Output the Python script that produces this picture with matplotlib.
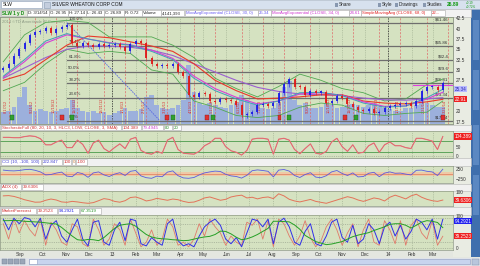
import matplotlib
matplotlib.use('Agg')
import matplotlib.pyplot as plt
import matplotlib.dates as mdates
from matplotlib.patches import Rectangle
from matplotlib.transforms import blended_transform_factory
import pandas as pd

plt.rcParams['font.family'] = ['Liberation Sans', 'DejaVu Sans']

W, H = 480, 266

# ---------------- data (weekly) ----------------
weeks = pd.date_range('2012-08-10', periods=84, freq='7D')
first_open = 30.0
close = [30.5, 31.5, 33.5, 35.0, 36.5, 38.5, 39.2, 39.5, 40.2, 39.0,
         39.8, 40.3, 40.8, 36.5, 35.8, 36.5, 36.0, 35.5, 36.2, 35.8,
         36.0, 36.3, 35.5, 34.5, 36.2, 37.0, 36.5, 33.0, 31.5, 31.0,
         31.3, 31.0, 31.5, 29.5, 28.5, 24.0, 23.5, 24.5, 24.2, 22.5,
         22.3, 23.0, 22.8, 22.5, 21.5, 19.0, 19.3, 19.8, 21.5, 21.8,
         21.3, 22.0, 24.5, 26.5, 27.8, 26.0, 25.8, 24.0, 24.8, 24.5,
         24.6, 22.0, 22.4, 23.8, 23.2, 21.8, 21.0, 20.3, 20.0, 20.5,
         19.6, 19.8, 20.8, 21.3, 21.5, 21.8, 22.0, 21.2, 22.6, 24.8,
         25.8, 25.9, 25.2, 26.89]
volume = [4.5, 5.0, 6.5, 10.0, 14.0, 7.0, 5.0, 5.5, 5.0, 4.5,
          5.0, 5.5, 6.0, 9.0, 6.0, 5.0, 4.5, 5.0, 4.0, 4.5,
          3.5, 4.0, 5.0, 6.0, 5.0, 5.0, 5.5, 10.0, 11.0, 7.0,
          6.0, 5.5, 6.0, 7.0, 9.0, 22.0, 12.0, 8.0, 7.0, 8.0,
          7.0, 6.5, 6.0, 7.0, 8.0, 11.0, 9.0, 8.0, 7.0, 6.0,
          5.5, 6.0, 8.0, 14.0, 16.0, 9.0, 7.0, 8.0, 6.0, 6.0,
          6.5, 8.0, 7.0, 6.0, 6.5, 7.0, 7.5, 7.0, 6.5, 7.0,
          8.0, 6.5, 6.0, 5.5, 5.0, 5.0, 6.0, 6.0, 7.0, 9.0,
          8.0, 7.0, 6.5, 6.5]

# moving averages / bands, every 4th week + last
ma_dates = weeks[::4].append(weeks[-1:])
ema30 = [28.5, 32.5, 37.0, 38.8, 37.5, 36.5, 36.0, 34.5, 32.5, 28.0, 25.0,
         23.0, 21.5, 22.5, 24.5, 24.6, 23.8, 22.0, 21.0, 21.3, 23.3, 25.34]
ema34 = [28.2, 32.0, 36.5, 38.5, 37.5, 36.6, 36.1, 34.8, 32.8, 28.5, 25.5,
         23.4, 21.8, 22.5, 24.2, 24.5, 23.9, 22.3, 21.2, 21.3, 23.0, 24.61]
sma68 = [27.5, 29.0, 32.5, 36.0, 38.2, 37.8, 36.8, 35.8, 34.5, 31.5, 27.5,
         25.0, 23.0, 23.2, 23.5, 24.0, 24.0, 22.5, 22.0, 21.8, 22.3, 22.91]
long_avg = [28.0, 30.5, 33.0, 35.0, 35.8, 35.8, 35.5, 34.8, 33.5, 31.5, 29.5,
            27.5, 25.8, 24.8, 24.2, 24.0, 23.8, 23.2, 22.8, 22.7, 23.0, 23.3]
bb_upper = [32.0, 38.5, 41.5, 42.0, 41.5, 38.0, 38.0, 38.0, 36.0, 33.0, 28.0,
            25.5, 23.5, 26.0, 29.0, 27.5, 25.5, 24.5, 22.5, 23.0, 26.5, 27.8]
bb_lower = [25.0, 27.0, 31.5, 35.0, 34.0, 34.5, 34.0, 30.0, 29.0, 22.5, 21.0,
            19.0, 18.5, 19.0, 21.0, 22.0, 21.5, 19.5, 19.0, 19.5, 19.8, 22.5]

# fibonacci retracement
fib_start = '2012-11-02'
fib_pct = ['100.0%', '76.4%', '61.8%', '50.0%', '38.2%', '23.6%', '0.0%']
fib_price = [41.46, 35.86, 32.40, 29.60, 26.81, 23.34, 17.74]
fib_trend = (['2012-11-02', '2013-03-05'], [41.46, 17.74])

expiry = ['2012-08-17', '2012-09-21', '2012-10-19', '2012-11-16', '2012-12-21',
          '2013-01-18', '2013-02-15', '2013-03-15', '2013-04-19', '2013-05-17',
          '2013-06-21', '2013-07-19', '2013-08-16', '2013-09-20', '2013-10-18',
          '2013-11-15', '2013-12-20', '2014-01-17', '2014-02-21', '2014-03-21']
earnings = ['2012-10-27', '2013-03-14', '2013-05-06', '2013-08-10', '2013-11-05', '2014-03-14']
dividends = ['2012-08-21', '2012-11-09', '2013-03-22', '2013-05-14', '2013-08-23', '2013-11-19']

stoch = [100, 100, 98, 98, 104, 108, 105, 93, 60, 60,
         75, 85, 45, 45, 85, 62, 15, 70, 85, 40,
         22, 45, 65, 40, 90, 100, 30, 15, 10, 25,
         15, 85, 100, 35, 15, 12, 10, 25, 55, 70,
         95, 95, 50, 28, 20, 5, 30, 90, 95, 95,
         90, 10, 90, 95, 85, 35, 12, 40, 65, 15,
         10, 25, 75, 95, 50, 25, 60, 15, 20, 55,
         70, 20, 60, 75, 55, 55, 45, 40, 95, 95,
         88, 80, 35, 104.4]
cci = [180, 150, 140, 160, 200, 220, 170, 90, -60, -40,
       30, 80, -120, -150, 60, 0, -180, 40, 90, -60,
       -140, -20, 50, -90, 120, 160, -110, -200, -230, -120,
       -150, 80, 140, -100, -210, -230, -190, -60, 40, 90,
       130, 110, -30, -110, -140, -220, -80, 150, 190, 160,
       120, -160, 180, 210, 130, -90, -190, -40, 50, -170,
       -200, -100, 90, 160, 10, -90, 40, -160, -140, 20,
       70, -150, 30, 90, 20, 30, -20, -60, 170, 180,
       120, 90, -90, 222.8]
adx = [70, 72, 66, 55, 42, 33, 24, 25, 38, 47, 40, 26, 23, 30, 26,
       20, 16, 21, 35, 50, 44, 30, 24, 35, 58, 62, 50, 33, 40, 52, 45,
       38, 47, 42, 30, 22, 25, 38, 55, 62, 50, 38, 45, 62, 70,
       75, 55, 60, 48, 58, 62, 50, 85, 70, 45, 33, 26, 35, 44, 30,
       23, 16, 28, 40, 52, 64, 55, 40, 30, 42, 55, 48, 33, 60, 75,
       62, 48, 70, 82, 60, 45, 35, 30, 39.6]
mf_inter = [90, 90, 91, 90, 88, 87, 86, 85, 83, 81,
            79, 68, 54, 40, 28, 26, 29, 28, 25, 35,
            50, 65, 75, 78, 80, 72, 58, 45, 37, 33,
            31, 30, 28, 27, 25, 26, 30, 34, 37, 39,
            45, 56, 55, 47, 36, 28, 31, 37, 45, 55,
            65, 88, 88, 87, 86, 76, 62, 42, 32, 22,
            17, 12, 14, 18, 22, 30, 38, 43, 47, 51,
            58, 64, 70, 78, 80, 80, 75, 66, 75, 85,
            90, 88, 84, 67.35]
mf_near = [95, 60, 98, 80, 100, 95, 70, 98, 30, 75,
           90, 40, 20, 60, 95, 30, 8, 85, 90, 20,
           10, 60, 85, 25, 95, 90, 15, 8, 35, 20,
           10, 80, 95, 25, 8, 15, 5, 40, 70, 85,
           95, 75, 30, 15, 35, 5, 50, 95, 90, 70,
           95, 15, 85, 98, 70, 20, 10, 55, 80, 15,
           8, 40, 85, 95, 35, 20, 75, 15, 30, 80,
           60, 15, 70, 85, 40, 75, 30, 55, 95, 85,
           60, 95, 30, 94.29]
mf_mom = [80, 30, 95, 50, 90, 60, 40, 95, 10, 85,
          60, 20, 10, 80, 70, 15, 5, 95, 60, 10,
          30, 80, 60, 10, 95, 50, 5, 20, 60, 10,
          30, 95, 70, 10, 20, 5, 30, 80, 40, 95,
          70, 50, 10, 40, 20, 10, 85, 75, 95, 30,
          90, 5, 95, 80, 40, 10, 40, 90, 35, 5,
          25, 70, 95, 60, 10, 50, 80, 5, 60, 95,
          20, 10, 90, 60, 15, 90, 10, 75, 95, 50,
          30, 90, 10, 39.25]

months = pd.date_range('2012-09-01', '2014-03-01', freq='MS')
month_labels = ['Sep', 'Oct', 'Nov', 'Dec', '13', 'Feb', 'Mar', 'Apr', 'May', 'Jun',
                'Jul', 'Aug', 'Sep', 'Oct', 'Nov', 'Dec', '14', 'Feb', 'Mar']

# ---------------- figure ----------------
PANEL = '#d5e2c1'
RIGHT = 453
xlo = mdates.date2num(pd.Timestamp('2012-09-01')) - 26.4
xhi = xlo + RIGHT / 0.7564

fig = plt.figure(figsize=(W / 100, H / 100), dpi=100)
fig.patch.set_facecolor('#e4e7e0')

bg = fig.add_axes([0, 0, 1, 1], zorder=0)
bg.set_xlim(0, W); bg.set_ylim(H, 0); bg.axis('off')
ov = fig.add_axes([0, 0, 1, 1], zorder=20)
ov.set_xlim(0, W); ov.set_ylim(H, 0); ov.axis('off')


def panel(y0, y1, lo, hi, z=2, face=PANEL):
    a = fig.add_axes([0, 1 - y1 / H, RIGHT / W, (y1 - y0) / H], zorder=z)
    a.set_facecolor(face)
    a.set_xlim(xlo, xhi)
    a.set_ylim(lo, hi)
    for s in a.spines.values():
        s.set_color('#8f9a86')
        s.set_linewidth(0.5)
    a.tick_params(axis='x', length=0, labelbottom=False)
    a.yaxis.tick_right()
    a.tick_params(axis='y', length=0, pad=2, labelsize=3.4, labelcolor='#333333')
    return a


def month_grid(a):
    for m in months:
        a.axvline(m, color='#9aaa8c', lw=0.4, ls=(0, (2, 2)))


def tag(a, val, txt, fc, tc='white'):
    tr = blended_transform_factory(a.transAxes, a.transData)
    a.text(1.003, val, txt, transform=tr, fontsize=3.3, color=tc, va='center', ha='left',
           clip_on=False, bbox=dict(boxstyle='square,pad=0.15', fc=fc, ec='none'))


def header(y0, y1, cells):
    bg.add_patch(Rectangle((0, y0), 471, y1 - y0, fc='#f1f1f1', ec='#b5b5b5', lw=0.4))
    for xs, xe, t, c in cells:
        bg.add_patch(Rectangle((xs, y0 + 0.6), xe - xs, y1 - y0 - 1.2, fc='white', ec='#a8a8a8', lw=0.4))
        ov.text(xs + 1, (y0 + y1) / 2 + 0.3, t, color=c, fontsize=3.2, va='center', ha='left')


# right column + blue strip
bg.add_patch(Rectangle((RIGHT, 17), 18, 240, fc='#e9ece3', ec='none'))
bg.add_patch(Rectangle((471, 9), 9, 248, fc='#3f6fad', ec='none'))
for yy in (20, 70, 125, 175):
    bg.add_patch(Rectangle((472.5, yy), 6, 40, fc='#5b88c2', ec='none'))

# ---- top toolbar ----
bg.add_patch(Rectangle((0, 0), W, 9, fc='#d7e1ee', ec='#a9b7c9', lw=0.4))
bg.add_patch(Rectangle((1, 1), 41, 7, fc='white', ec='#8a9ab0', lw=0.4))
bg.add_patch(Rectangle((43.5, 1.5), 6, 6, fc='#c4cede', ec='#8a9ab0', lw=0.4))
ov.text(3, 4.8, 'SLW', fontsize=3.4, va='center', color='#111111')
ov.text(52, 4.8, 'SILVER WHEATON CORP COM', fontsize=3.5, va='center', color='#111111')
for x, t in [(339, 'Share'), (382, 'Style'), (399, 'Drawings'), (427, 'Studies')]:
    bg.add_patch(Rectangle((x - 4, 2.5), 3, 4, fc='#8898b0', ec='none'))
    ov.text(x, 4.8, t, fontsize=3.3, va='center', color='#222222')
ov.text(447, 4.8, '26.89', fontsize=3.6, va='center', color='#119911', fontweight='bold')
ov.text(466, 2.8, '+0.19', fontsize=2.2, va='center', color='#119911')
ov.text(466, 6.6, '+0.72%', fontsize=2.2, va='center', color='#119911')

# ---- legend row ----
bg.add_patch(Rectangle((0, 9), 471, 8, fc='#f2f2f2', ec='#b5b5b5', lw=0.4))
bg.add_patch(Rectangle((0.5, 9.6), 26, 6.8, fc='#e3ecd9', ec='#a8a8a8', lw=0.4))
ov.text(2, 13.3, 'SLW 1 y D', fontsize=3.3, va='center', color='#118811', fontweight='bold')
leg = [(27, 49, 'D: 3/14/14', '#222222'), (49, 68, 'O: 26.95', '#222222'),
       (68, 86, 'H: 27.14', '#222222'), (86, 104, 'L: 26.43', '#222222'),
       (104, 124, 'C: 26.89', '#222222'), (124, 142, 'R: 0.72', '#222222'),
       (142, 161, 'Volume', '#222222'), (161, 184, '4,141,393', '#222222'),
       (185, 258, 'MovAvgExponential (CLOSE, 30, 0)', '#6a5cf0'), (258, 271, '25.34', '#6a5cf0'),
       (271, 349, 'MovAvgExponential (CLOSE, 34, 0)', '#cc33cc'), (349, 361, '24.61', '#cc33cc'),
       (361, 431, 'SimpleMovingAvg (CLOSE, 68, 0)', '#e02020'), (431, 445, '22...', '#e02020')]
for xs, xe, t, c in leg:
    bg.add_patch(Rectangle((xs, 9.6), xe - xs, 6.8, fc='white', ec='#a8a8a8', lw=0.4))
    ov.text(xs + 1, 13.3, t, color=c, fontsize=3.1, va='center', ha='left')

# ---- price panel ----
axv = panel(17, 124, 0, 40, z=1)
axv.set_yticks([])
month_grid(axv)
axv.bar(weeks, volume, width=6.3, color='#9cb0dc', zorder=2)

ax = panel(17, 124, 16.94, 42.81, z=2, face='none')
ax.set_yticks([17.5, 20, 27.5, 30, 32.5, 35, 37.5, 40, 42.5])
ax.set_yticklabels(['17.5', '20', '27.5', '30', '32.5', '35', '37.5', '40', '42.5'])

for d in expiry:
    ax.axvline(pd.Timestamp(d), color='#e06868', lw=0.5, ls=(0, (3, 2)), zorder=1)
    ts = pd.Timestamp(d)
    ax.text(ts - pd.Timedelta(days=1), 19.6, f'{ts.month}/{ts.day}/{ts.strftime("%y")}',
            rotation=90, fontsize=2.8, color='#d83030', ha='right', va='bottom')
for d in ['2013-01-01', '2014-01-01']:
    ax.axvline(pd.Timestamp(d), color='#3c3c3c', lw=0.6, ls=(0, (1.5, 1.5)), zorder=1)

fs = pd.Timestamp(fib_start)
for pct, p in zip(fib_pct, fib_price):
    ax.plot([fs, pd.Timestamp('2014-03-27')], [p, p], color='#6e6e6e', lw=0.9, zorder=3)
    ax.text(fs + pd.Timedelta(days=2), p + 0.35, pct, fontsize=3.2, color='#333333', va='bottom')
    ax.text(0.99, p + 0.35, f'${p:g}', transform=blended_transform_factory(ax.transAxes, ax.transData),
            fontsize=3.2, color='#333333', va='bottom', ha='right')
ax.plot(pd.to_datetime(fib_trend[0]), fib_trend[1], color='#5a6ae0', lw=0.6, ls=(0, (2, 1)), zorder=3)

ax.plot(ma_dates, bb_upper, color='#52a852', lw=0.6, zorder=4)
ax.plot(ma_dates, bb_lower, color='#52a852', lw=0.6, zorder=4)
ax.plot(ma_dates, long_avg, color='#9b5fd0', lw=0.8, zorder=4)
ax.plot(ma_dates, sma68, color='#e83a2a', lw=0.8, zorder=4)
ax.plot(ma_dates, ema34, color='#d640d6', lw=0.8, zorder=4)
ax.plot(ma_dates, ema30, color='#3f9fb8', lw=0.7, zorder=4)
ax.plot([pd.Timestamp('2014-02-03'), pd.Timestamp('2014-03-27')], [26.4, 26.4], color='#e040e0', lw=0.8, zorder=4)

opens = [first_open] + close[:-1]
for d, o, c in zip(weeks, opens, close):
    lo, hi = min(o, c), max(o, c)
    col = '#1a1ae6' if c >= o else '#e01818'
    ax.vlines(d, lo - 0.5, hi + 0.5, color=col, lw=0.4, zorder=5)
    ax.vlines(d, lo, max(hi, lo + 0.3), color=col, lw=1.3, zorder=5)

for d in earnings:
    ax.add_patch(Rectangle((mdates.date2num(pd.Timestamp(d)) - 2.5, 18.0), 5, 1.1,
                           fc='#e03030', ec='#802020', lw=0.3, zorder=6))
for d in dividends:
    ax.add_patch(Rectangle((mdates.date2num(pd.Timestamp(d)) - 2.5, 18.0), 5, 1.1,
                           fc='#30a030', ec='#206020', lw=0.3, zorder=6))

ax.text(0.005, 0.975, '2014 \u00a9TD Ameritrade IP Company', transform=ax.transAxes,
        fontsize=3.0, color='#8c9a84', va='top')
tag(ax, 25.34, '25.34', '#b8b8ff', '#2a2ab0')
tag(ax, 22.91, '22.91', '#ee2020')

# ---- stochastic ----
header(124.5, 131, [(1, 121, 'StochasticFull (80, 20, 10, 3, HLC3, LOW, CLOSE, 3, SMA)', '#d03030'),
                    (122, 141, '104.389', '#d03030'), (142, 163, '79.4945', '#d040d0'),
                    (164, 172, '80', '#309030'), (173, 181, '20', '#309030')])
a1 = panel(131, 157.5, -8, 134)
month_grid(a1)
a1.axhline(80, color='#4b9b4b', lw=0.6)
a1.axhline(20, color='#4b9b4b', lw=0.6)
a1.axhline(0, color='#8f9a86', lw=0.4, ls=(0, (2, 2)))
a1.plot(weeks, stoch, color='#e66a8a', lw=0.8)
a1.plot(weeks, stoch, color='#e07060', lw=0.4)
a1.set_yticks([0, 50])
tag(a1, 104.4, '104.389', '#ee2020')

# ---- CCI ----
header(158, 165.5, [(1, 41, 'CCI (10, -100, 100)', '#4040d0'), (42, 62, '222.847', '#4040d0'),
                    (63, 71, '100', '#d03030'), (72, 75, '0', '#d08040'), (76, 87, '-100', '#d03030')])
a2 = panel(165.5, 183, -465, 410)
month_grid(a2)
a2.axhspan(-100, 100, color='#efc9a6', lw=0)
a2.axhline(0, color='#e07a5a', lw=0.5)
a2.plot(weeks, cci, color='#5a5ae0', lw=0.6)
a2.set_yticks([-250, 250])

# ---- ADX ----
header(183.5, 190.5, [(1, 21, 'ADX (4)', '#d03030'), (22, 43, '39.6306', '#d03030')])
a3 = panel(190.5, 205.5, 0, 109)
month_grid(a3)
a3.plot(weeks, adx, color='#e3735a', lw=0.7)
a3.set_yticks([100])
tag(a3, 39.63, '39.6306', '#ee2020')

# ---- MarketForecast ----
header(207, 214.5, [(1, 36, 'MarketForecast', '#d03030'), (37, 57, '39.2523', '#d03030'),
                    (58, 79, '94.2921', '#2020e0'), (80, 101, '67.3519', '#209020')])
a4 = panel(214.5, 250, -5.4, 110)
month_grid(a4)
for lv in (0, 20, 80, 100):
    a4.axhline(lv, color='#8f9a86', lw=0.4, ls=(0, (2, 2)))
a4.plot(weeks, mf_mom, color='#e07a6a', lw=0.6)
a4.plot(weeks, mf_near, color='#3030e8', lw=0.7)
a4.plot(weeks, mf_inter, color='#25a025', lw=0.7)
a4.set_yticks([0, 105])
a4.set_yticklabels(['0', '100'])
tag(a4, 88, '94.2921', '#2020ee')
tag(a4, 39.25, '39.2523', '#ee2020')
a4.set_xticks(months)
a4.set_xticklabels(month_labels)
a4.tick_params(axis='x', labelbottom=True, labelsize=3.4, pad=1.5, labelcolor='#333333')

# ---- bottom scrollbar ----
bg.add_patch(Rectangle((0, 257.5), W, 8.5, fc='#dfe3ea', ec='none'))
for x in (2, 8, 14, 20):
    bg.add_patch(Rectangle((x, 259), 4.5, 5, fc='#9aa6b8', ec='#6f7c90', lw=0.3))
bg.add_patch(Rectangle((29, 259), 441, 5, fc='#c8d4ee', ec='#8e9cc0', lw=0.4))
bg.add_patch(Rectangle((29, 259), 8, 5, fc='white', ec='#8e9cc0', lw=0.4))
bg.add_patch(Rectangle((472, 258.5), 7, 6.5, fc='#b8c6dc', ec='#7c8aa4', lw=0.3))

fig.savefig('out.png', dpi=100, facecolor=fig.get_facecolor())
